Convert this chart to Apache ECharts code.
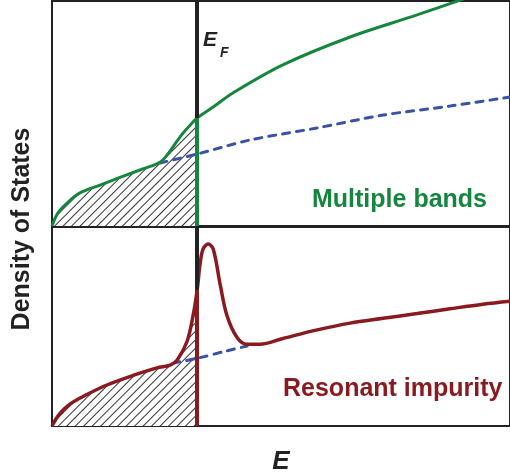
<!DOCTYPE html>
<html>
<head>
<meta charset="utf-8">
<script src="https://cdn.jsdelivr.net/npm/echarts@6/dist/echarts.min.js"></script>
<style>
  html, body { margin: 0; padding: 0; background: #fff; }
  #chart { width: 510px; height: 476px; }
</style>
</head>
<body>
<div id="chart"></div>
<script>
// Energy axis runs 0..100 (arbitrary units); density of states 0..100 in each panel.
const fermiEnergy = 31.7;

// Upper panel: multiple bands
const multiBandTotal = [
  [0, 0], [1.3, 5.8], [3.3, 10.2], [6.1, 14.7], [10.5, 18.2],
  [19.2, 24.9], [22.9, 27.6], [24.2, 29.3], [26.4, 35.1], [28.6, 41.3],
  [30.8, 46.2], [31.7, 48], [35.2, 52.9], [39.5, 59.1],
  [50.4, 71.6], [65.1, 84], [79.7, 93.8], [92.4, 102.7]
];
const singleBandTop = [
  [23.6, 28], [31.7, 32], [43.2, 38.2], [57.9, 43.6],
  [72.3, 49.3], [86.9, 53.3], [100, 57.3]
];

// Lower panel: resonant impurity
const resonantTotal = [
  [0, 0], [1.7, 6.2], [3.9, 11], [7.6, 15.8], [12, 20.6], [17.7, 25.4],
  [22.9, 29.2], [25.8, 30.6], [27.3, 33], [29.5, 42.6], [30.8, 55.5],
  [31.7, 68.4], [32.3, 80.9], [33, 89], [34.1, 91.4], [35.2, 89],
  [36.7, 71.3], [38.2, 55.5], [40.4, 44.5], [42.6, 41.1], [45.4, 41.1],
  [50.4, 44], [57.9, 48.3], [65.1, 51.7], [72.3, 54.1], [79.7, 56.5],
  [86.9, 58.9], [94.1, 61.2], [100, 62.7]
];
const singleBandBottom = [
  [26.4, 31.6], [31.7, 34], [38.2, 37.8], [42.6, 40.2]
];

const green = '#16863e';
const red = '#8a1a1f';
const blue = '#3a52a6';
const ink = '#222';

// filled (occupied) states: everything up to the Fermi energy
const occupied = pts => pts.filter(p => p[0] <= fermiEnergy);
const valueAtFermi = pts => pts.find(p => p[0] === fermiEnergy)[1];

const hatch = {
  symbol: 'rect',
  symbolSize: 1,
  color: '#333',
  backgroundColor: '#fff',
  dashArrayX: [1, 0],
  dashArrayY: [1, 5],
  rotation: -Math.PI / 4
};

const chart = echarts.init(document.getElementById('chart'), null, { renderer: 'canvas' });

const axisCommon = {
  axisLine: { show: false },
  axisTick: { show: false },
  axisLabel: { show: false },
  splitLine: { show: false }
};

function fermiLine(yMax, color) {
  return {
    silent: true,
    symbol: 'none',
    label: { show: false },
    data: [[{ coord: [fermiEnergy, 0] }, { coord: [fermiEnergy, yMax] }]],
    lineStyle: { color: color, width: 4, type: 'solid' }
  };
}

const SMOOTH = 0.35;

chart.setOption({
  animation: false,
  grid: [
    { left: 52, top: 1, right: -2, height: 225, show: true, borderColor: ink, borderWidth: 2, backgroundColor: 'transparent' },
    { left: 52, top: 227, right: -2, height: 209, show: true, borderColor: ink, borderWidth: 2, backgroundColor: 'transparent' }
  ],
  xAxis: [
    Object.assign({ type: 'value', gridIndex: 0, min: 0, max: 100 }, axisCommon),
    Object.assign({
      type: 'value', gridIndex: 1, min: 0, max: 100,
      name: 'E', nameLocation: 'middle', nameGap: 23,
      nameTextStyle: { fontFamily: 'Liberation Sans', fontWeight: 'bold', fontStyle: 'italic', fontSize: 26, color: ink }
    }, axisCommon)
  ],
  yAxis: [
    Object.assign({ type: 'value', gridIndex: 0, min: 0, max: 100 }, axisCommon),
    Object.assign({ type: 'value', gridIndex: 1, min: 0, max: 100 }, axisCommon)
  ],
  series: [
    // hatched occupied states, upper panel
    {
      type: 'line', xAxisIndex: 0, yAxisIndex: 0, data: occupied(multiBandTotal),
      smooth: SMOOTH, symbol: 'none', z: 1,
      itemStyle: { color: '#fff', decal: hatch },
      lineStyle: { width: 0, opacity: 0 },
      areaStyle: { color: '#fff', opacity: 1 },
      markLine: fermiLine(100, ink)
    },
    {
      type: 'line', xAxisIndex: 0, yAxisIndex: 0, data: singleBandTop,
      smooth: 0.3, symbol: 'none', z: 3,
      lineStyle: { color: blue, width: 3, type: [7, 7], cap: 'round' }
    },
    {
      type: 'line', xAxisIndex: 0, yAxisIndex: 0, data: multiBandTotal,
      smooth: SMOOTH, symbol: 'none', z: 4,
      lineStyle: { color: green, width: 3 },
      markLine: fermiLine(valueAtFermi(multiBandTotal), green)
    },
    // hatched occupied states, lower panel
    {
      type: 'line', xAxisIndex: 1, yAxisIndex: 1, data: occupied(resonantTotal),
      smooth: SMOOTH, symbol: 'none', z: 1,
      itemStyle: { color: '#fff', decal: hatch },
      lineStyle: { width: 0, opacity: 0 },
      areaStyle: { color: '#fff', opacity: 1 },
      markLine: fermiLine(100, ink)
    },
    {
      type: 'line', xAxisIndex: 1, yAxisIndex: 1, data: singleBandBottom,
      smooth: 0.3, symbol: 'none', z: 3,
      lineStyle: { color: blue, width: 3, type: [7, 7], cap: 'round' }
    },
    {
      type: 'line', xAxisIndex: 1, yAxisIndex: 1, data: resonantTotal,
      smooth: SMOOTH, symbol: 'none', z: 4,
      lineStyle: { color: red, width: 3.5 },
      markLine: fermiLine(valueAtFermi(resonantTotal), red)
    }
  ],
  graphic: [
    {
      type: 'text', left: 312, top: 188, z: 10,
      style: { text: 'Multiple bands', fill: green, font: 'bold 25px "Liberation Sans"' }
    },
    {
      type: 'text', left: 283, top: 377, z: 10,
      style: { text: 'Resonant impurity', fill: red, font: 'bold 25px "Liberation Sans"' }
    },
    {
      type: 'text', left: 203, top: 30, z: 10,
      style: { text: 'E', fill: ink, font: 'italic bold 21px "Liberation Sans"' }
    },
    {
      type: 'text', left: 220, top: 46, z: 10,
      style: { text: 'F', fill: ink, font: 'italic bold 14px "Liberation Sans"' }
    },
    {
      type: 'text', z: 10,
      x: 22, y: 229, rotation: Math.PI / 2,
      style: { text: 'Density of States', fill: ink, font: 'bold 25px "Liberation Sans"', align: 'center', verticalAlign: 'middle' }
    }
  ]
});
</script>
</body>
</html>
